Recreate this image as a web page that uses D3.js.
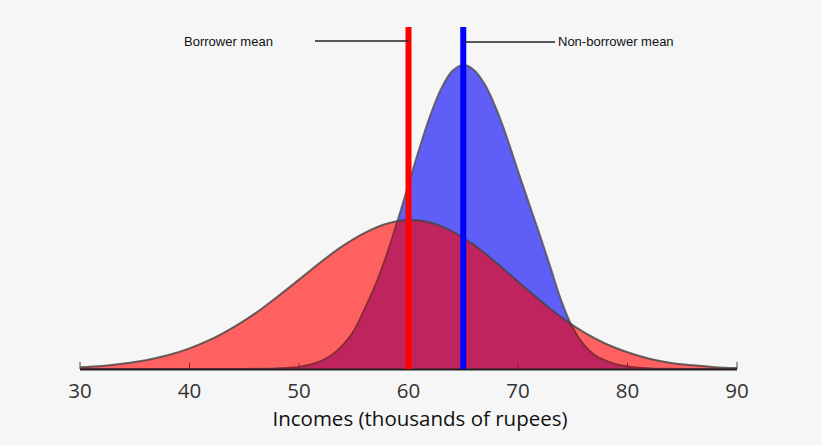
<!DOCTYPE html>
<html>
<head>
<meta charset="utf-8">
<script src="https://cdn.jsdelivr.net/npm/d3@7"></script>
<style>
  body { margin: 0; background: #f6f6f6; }
  svg { display: block; }
  .tick-label { font-family: "Open Sans", sans-serif; font-size: 20.5px; fill: #333; }
  .axis-title { font-family: "Open Sans", sans-serif; font-size: 20.5px; fill: #111; }
  .note { font-family: "Liberation Sans", Arial, sans-serif; font-size: 13px; fill: #111; }
</style>
</head>
<body>
<svg id="chart" width="822" height="445"></svg>
<script>
// Borrower incomes (red) - relative density
const incomesRed = [30,32,34,36,38,40,42,44,46,48,50,52,54,56,58,60,62,64,66,68,70,72,74,76,78,80,82,84,86,88,90];
const densityRed = [0.006,0.010,0.018,0.029,0.045,0.068,0.098,0.137,0.183,0.237,0.294,0.352,0.405,0.448,0.478,0.490,0.482,0.453,0.408,0.350,0.288,0.226,0.169,0.121,0.083,0.055,0.034,0.020,0.012,0.006,0.003];

// Non-borrower incomes (blue)
const incomesBlue = [30,40,44,47,48,49,50,51,52,53,54,55,56,57,58,59,60,61,62,63,64,65,66,67,68,69,70,71,72,73,74,75,76,77,78,79,80,81,82,83,86,90];
const densityBlue = [0,0,0.0001,0.0006,0.0015,0.0035,0.007,0.014,0.026,0.046,0.078,0.125,0.198,0.278,0.375,0.487,0.607,0.726,0.835,0.923,0.980,1.0,0.983,0.934,0.857,0.760,0.651,0.545,0.440,0.330,0.220,0.135,0.080,0.046,0.027,0.015,0.008,0.004,0.002,0.001,0.0001,0];

const xTicks = [30,40,50,60,70,80,90];
const means = [
  { label: 'Borrower mean', value: 60, color: '#ff0000' },
  { label: 'Non-borrower mean', value: 65, color: '#0000ff' }
];

const svg = d3.select('#chart');
const x = d3.scaleLinear().domain([30, 90]).range([80, 737]);
const y = d3.scaleLinear().domain([0, 1]).range([369, 65]);

const red = incomesRed.map((v, i) => [v, densityRed[i]]);
const blue = incomesBlue.map((v, i) => [v, densityBlue[i]]);

const curve = d3.curveCatmullRom.alpha(0.5);
const area = d3.area().x(d => x(d[0])).y0(y(0)).y1(d => Math.min(y(0), y(d[1]))).curve(curve);
const line = d3.line().x(d => x(d[0])).y(d => y(d[1])).curve(curve);

const defs = svg.append('defs');
defs.append('clipPath').attr('id', 'clip-blue').append('path').attr('d', area(blue));
defs.append('clipPath').attr('id', 'clip-red').append('path').attr('d', area(red));

// fills
svg.append('path').attr('d', area(red)).attr('fill', '#ff6060');
svg.append('path').attr('d', area(blue)).attr('fill', '#5f5ff7');
svg.append('path').attr('d', area(red)).attr('fill', '#c0245e').attr('clip-path', 'url(#clip-blue)');

// outlines
svg.append('path').attr('d', line(blue)).attr('fill', 'none')
  .attr('stroke', '#555').attr('stroke-opacity', 0.85).attr('stroke-width', 2);
svg.append('path').attr('d', line(blue)).attr('fill', 'none')
  .attr('stroke', '#9e2030').attr('stroke-width', 1.5).attr('clip-path', 'url(#clip-red)');
svg.append('path').attr('d', line(red)).attr('fill', 'none')
  .attr('stroke', '#444').attr('stroke-opacity', 0.8).attr('stroke-width', 2);

// axis
const axis = svg.append('g');
axis.append('line')
  .attr('x1', x(30)).attr('x2', x(90)).attr('y1', y(0) + 0.5).attr('y2', y(0) + 0.5)
  .attr('stroke', '#222').attr('stroke-width', 2);
axis.selectAll('line.tick').data(xTicks).join('line')
  .attr('class', 'tick')
  .attr('x1', d => x(d)).attr('x2', d => x(d))
  .attr('y1', y(0)).attr('y2', d => (d === 30 || d === 90) ? y(0) - 7 : y(0) - 6)
  .attr('stroke', d => (d === 30 || d === 90) ? '#444' : '#8a1a30').attr('stroke-width', 1);
axis.selectAll('text').data(xTicks).join('text')
  .attr('class', 'tick-label')
  .attr('x', d => x(d)).attr('y', 398)
  .attr('text-anchor', 'middle')
  .text(d => d);

svg.append('text').attr('class', 'axis-title')
  .attr('x', 420).attr('y', 426).attr('text-anchor', 'middle')
  .text('Incomes (thousands of rupees)');

// mean lines
svg.selectAll('line.mean').data(means).join('line')
  .attr('class', 'mean')
  .attr('x1', d => x(d.value)).attr('x2', d => x(d.value))
  .attr('y1', 27).attr('y2', y(0))
  .attr('stroke', d => d.color).attr('stroke-width', 6);

// annotations
svg.append('line').attr('x1', 315).attr('x2', x(60)).attr('y1', 41).attr('y2', 41)
  .attr('stroke', '#222').attr('stroke-width', 1.5);
svg.append('text').attr('class', 'note').attr('x', 184).attr('y', 46).text(means[0].label);
svg.append('line').attr('x1', x(65)).attr('x2', 555).attr('y1', 42).attr('y2', 42)
  .attr('stroke', '#222').attr('stroke-width', 1.5);
svg.append('text').attr('class', 'note').attr('x', 558).attr('y', 46).text(means[1].label);
</script>
</body>
</html>
